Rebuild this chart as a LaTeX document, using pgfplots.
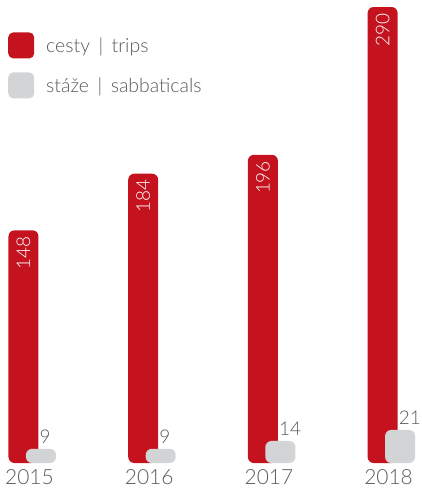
\documentclass[border=0pt]{standalone}
\usepackage{pgfplots}
\pgfplotsset{compat=1.18}
\usepackage{fontspec}
\setmainfont{Lato Light}
\definecolor{redc}{HTML}{C4121E}
\definecolor{grayc}{HTML}{D3D4D6}
\definecolor{txt}{HTML}{58595B}
\begin{document}
\begin{tikzpicture}
\begin{axis}[
  width=422bp, height=488bp, scale only axis,
  xmin=-0.1963, xmax=3.329, ymin=-15.9, ymax=294.5,
  hide axis, clip=false,
  /pgf/number format/assume math mode=true,
  ybar, bar width=0.2506,
  legend style={at={(axis description cs:0.019,0.934)}, anchor=north west,
    draw=none, fill=none, inner sep=0pt, row sep=14bp,
    font=\fontsize{19.5}{20}\selectfont, text=txt,
    nodes={inner sep=0pt, text=txt},
    /tikz/every odd column/.append style={column sep=12bp}},
  legend cell align=left,
]
\addplot[fill=redc, draw=none, rounded corners=6bp, bar shift=0,
  nodes near coords, every node near coord/.append style={rotate=90, anchor=east, inner xsep=6bp, text=white, font=\fontsize{19}{19}\selectfont},
  legend image code/.code={\fill[redc, rounded corners=5bp] (0bp,-13bp) rectangle (26bp,13bp);}]
  coordinates {(0,148) (1,184) (2,196) (3,290)};
\addlegendentry{cesty \,|\, trips}
\addplot[fill=grayc, draw=none, rounded corners=6bp, bar shift=0.146,
  nodes near coords, every node near coord/.append style={anchor=south west, inner sep=0pt, xshift=-1.5bp, yshift=5bp, text=txt, font=\fontsize{19}{19}\selectfont},
  legend image code/.code={\fill[grayc, rounded corners=5bp] (0bp,-13bp) rectangle (26bp,13bp);}]
  coordinates {(0,9) (1,9) (2,14) (3,21)};
\addlegendentry{stáže \,|\, sabbaticals}
\foreach \i/\y in {0/2015,1/2016,2/2017,3/2018}{
  \edef\tmp{\noexpand\node[inner sep=0pt, anchor=base, text=txt, font=\noexpand\fontsize{21}{22}\noexpand\selectfont] at (axis cs:\i+0.05,-13.6) {\y};}
  \tmp
}
\coordinate (bl) at (rel axis cs:0,0);
\coordinate (tr) at (rel axis cs:1,1);
\end{axis}
\pgfresetboundingbox
\useasboundingbox (bl) rectangle (tr);
\end{tikzpicture}
\end{document}
